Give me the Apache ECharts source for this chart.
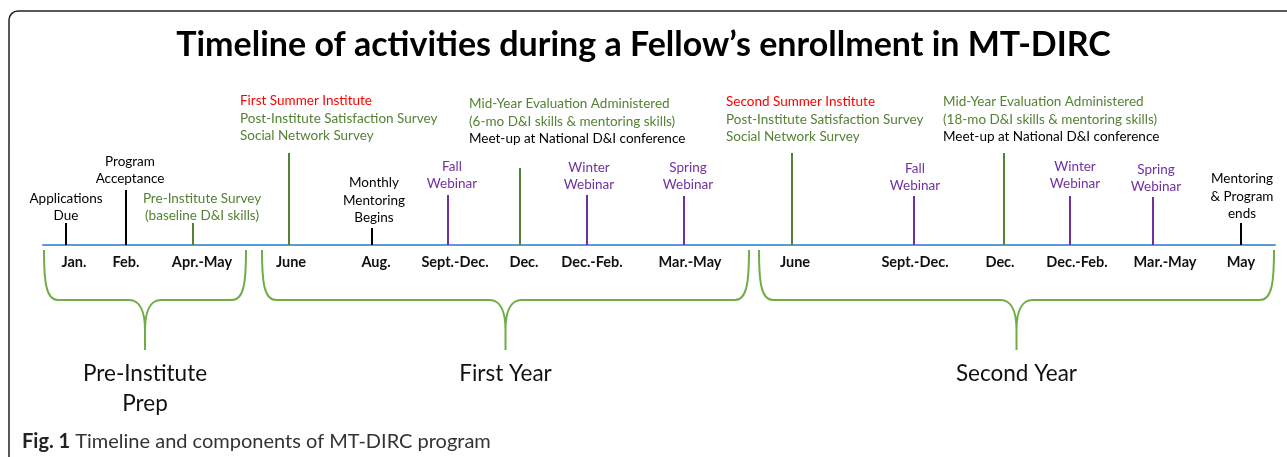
<!DOCTYPE html>
<html>
<head>
<meta charset="utf-8">
<script src="https://cdn.jsdelivr.net/npm/echarts@6/dist/echarts.min.js"></script>
<style>
	html, body { margin: 0; padding: 0; background: #fff; }
	#main { width: 1287px; height: 457px; }
</style>
</head>
<body>
<div id="main"></div>
<script>
// Timeline ticks: label under the axis, position along the timeline, tick height above the axis
const tickLabels = ['Jan.', 'Feb.', 'Apr.-May', 'June', 'Aug.', 'Sept.-Dec.', 'Dec.', 'Dec.-Feb.', 'Mar.-May',
	'June', 'Sept.-Dec.', 'Dec.', 'Dec.-Feb.', 'Mar.-May', 'May'];
const tickPos = [66, 126, 193, 289, 372, 448, 520, 587, 684, 792, 914, 1004, 1070, 1153, 1241];
const tickHeight = [22, 55, 22, 92, 17, 50, 77, 50, 49, 92, 49, 92, 49, 48, 22];
const tickKind = ['note', 'note', 'survey', 'survey', 'note', 'webinar', 'survey', 'webinar', 'webinar',
	'survey', 'webinar', 'survey', 'webinar', 'webinar', 'note'];

// Activity text above each tick, one [kind, text] per line
const eventLines = [
	[['note', 'Applications'], ['note', 'Due']],
	[['note', 'Program'], ['note', 'Acceptance']],
	[['survey', 'Pre-Institute Survey'], ['survey', '(baseline D&I skills)']],
	[['institute', 'First Summer Institute'], ['survey', 'Post-Institute Satisfaction Survey'], ['survey', 'Social Network Survey']],
	[['note', 'Monthly'], ['note', 'Mentoring'], ['note', 'Begins']],
	[['webinar', 'Fall'], ['webinar', 'Webinar']],
	[['survey', 'Mid-Year Evaluation Administered'], ['survey', '(6-mo D&I skills & mentoring skills)'], ['note', 'Meet-up at National D&I conference']],
	[['webinar', 'Winter'], ['webinar', 'Webinar']],
	[['webinar', 'Spring'], ['webinar', 'Webinar']],
	[['institute', 'Second Summer Institute'], ['survey', 'Post-Institute Satisfaction Survey'], ['survey', 'Social Network Survey']],
	[['webinar', 'Fall'], ['webinar', 'Webinar']],
	[['survey', 'Mid-Year Evaluation Administered'], ['survey', '(18-mo D&I skills & mentoring skills)'], ['note', 'Meet-up at National D&I conference']],
	[['webinar', 'Winter'], ['webinar', 'Webinar']],
	[['webinar', 'Spring'], ['webinar', 'Webinar']],
	[['note', 'Mentoring'], ['note', '& Program'], ['note', 'ends']]
];

// Program phases (curly braces under the axis)
const phaseNames = ['Pre-Institute\nPrep', 'First Year', 'Second Year'];
const phaseStart = [44, 262, 759];
const phaseEnd = [246, 749, 1274];

// ---- layout / style ----
const colors = { note: '#000000', survey: '#548235', webinar: '#7030a0', institute: '#ff0000' };
// where each activity text block sits: [x, bottom above axis, align]
const eventAnchor = [[66, 22, 'center'], [130, 59, 'center'], [202, 22, 'center'], [240, 102, 'left'],
	[374, 20, 'center'], [452, 54, 'center'], [469, 99, 'left'], [589, 53, 'center'], [688, 53, 'center'],
	[726, 101, 'left'], [915, 52, 'center'], [943, 101, 'left'], [1075, 54, 'center'], [1156, 51, 'center'],
	[1242, 24, 'center']];
const labelNudge = [8, 0, 9, 2, 4, 7, 4, 5, 6, 3, 1, -4, 7, 12, 0];
const FONT = 'Lato, "Open Sans", sans-serif';
const LINE_H = 17.5;

const myChart = echarts.init(document.getElementById('main'), null, { renderer: 'canvas' });

const option = {
	animation: false,
	backgroundColor: '#ffffff',
	title: [
		{
			text: 'Timeline of activities during a Fellow\u2019s enrollment in MT-DIRC',
			left: 'center',
			top: 23,
			textStyle: { fontFamily: FONT, fontWeight: 'bold', fontSize: 34, color: '#000' }
		},
		{
			text: '{b|Fig. 1} Timeline and components of MT-DIRC program',
			left: 17,
			top: 427,
			textStyle: {
				fontFamily: FONT, fontSize: 20, fontWeight: 'normal', color: '#333',
				rich: { b: { fontFamily: FONT, fontSize: 20, fontWeight: 'bold', color: '#222' } }
			}
		}
	],
	graphic: [
		{
			type: 'rect',
			shape: { x: 9, y: 11, width: 1300, height: 470, r: 9 },
			style: { fill: 'none', stroke: '#222', lineWidth: 1.5 },
			silent: true
		}
	],
	grid: { left: 43, right: 12, top: 0, bottom: 0 },
	xAxis: {
		type: 'value',
		min: 43,
		max: 1275,
		axisLine: { show: true, onZero: true, lineStyle: { color: '#5b9bd5', width: 2 } },
		axisTick: { show: false },
		axisLabel: { show: false },
		splitLine: { show: false }
	},
	yAxis: {
		type: 'value',
		min: -212,
		max: 245,
		show: false,
		splitLine: { show: false }
	},
	series: [
		{
			name: 'ticks',
			type: 'bar',
			barWidth: 2,
			z: 1,
			data: tickPos.map((p, i) => ({ value: [p, tickHeight[i]], itemStyle: { color: colors[tickKind[i]] } }))
		},
		{
			name: 'activities',
			type: 'custom',
			clip: false,
			data: tickPos.map((p, i) => [p, tickHeight[i], i]),
			renderItem: function (params, api) {
				const i = api.value(2);
				const a = eventAnchor[i];
				const pt = api.coord([a[0], a[1]]);
				const lines = eventLines[i];
				const children = lines.map((l, k) => ({
					type: 'text',
					x: pt[0],
					y: pt[1] - (lines.length - 1 - k) * LINE_H,
					style: {
						text: l[1],
						fill: colors[l[0]],
						font: '13.5px ' + FONT,
						align: a[2],
						verticalAlign: 'bottom'
					}
				}));
				return { type: 'group', children: children };
			}
		},
		{
			name: 'tick labels',
			type: 'custom',
			clip: false,
			data: tickPos.map((p, i) => [p, i]),
			renderItem: function (params, api) {
				const i = api.value(1);
				const pt = api.coord([api.value(0) + labelNudge[i], -17]);
				return {
					type: 'text',
					x: pt[0],
					y: pt[1],
					style: {
						text: tickLabels[i],
						fill: '#111',
						font: 'bold 14.5px ' + FONT,
						align: 'center',
						verticalAlign: 'middle'
					}
				};
			}
		},
		{
			name: 'phases',
			type: 'custom',
			clip: false,
			data: phaseStart.map((s, i) => [s, phaseEnd[i], i]),
			renderItem: function (params, api) {
				const i = api.value(2);
				const x0 = api.value(0);
				const x1 = api.value(1);
				const top = api.coord([x0, -5]);
				const bar = api.coord([x0, -55]);
				const tip = api.coord([(x0 + x1) / 2, -105]);
				const right = api.coord([x1, -5]);
				const l = top[0], r = right[0], m = tip[0];
				const yt = top[1], yh = bar[1], yp = tip[1];
				const d = [
					'M', l, yt,
					'C', l, yh - 18, l + 2, yh, l + 14, yh,
					'L', m - 16, yh,
					'C', m - 5, yh, m, yh + 12, m, yh + 30,
					'L', m, yp,
					'M', m, yh + 30,
					'C', m, yh + 12, m + 5, yh, m + 16, yh,
					'L', r - 14, yh,
					'C', r - 2, yh, r, yh - 18, r, yt
				].join(' ');
				const lbl = api.coord([(x0 + x1) / 2, -114]);
				return {
					type: 'group',
					children: [
						{
							type: 'path',
							shape: { pathData: d },
							style: { fill: 'none', stroke: '#70ad47', lineWidth: 2 }
						},
						{
							type: 'text',
							x: lbl[0],
							y: lbl[1],
							style: {
								text: phaseNames[i],
								fill: '#111',
								font: '22.5px ' + FONT,
								lineHeight: 30,
								align: 'center',
								verticalAlign: 'top'
							}
						}
					]
				};
			}
		}
	]
};
myChart.setOption(option);
window.onresize = myChart.resize;
</script>
</body>
</html>
